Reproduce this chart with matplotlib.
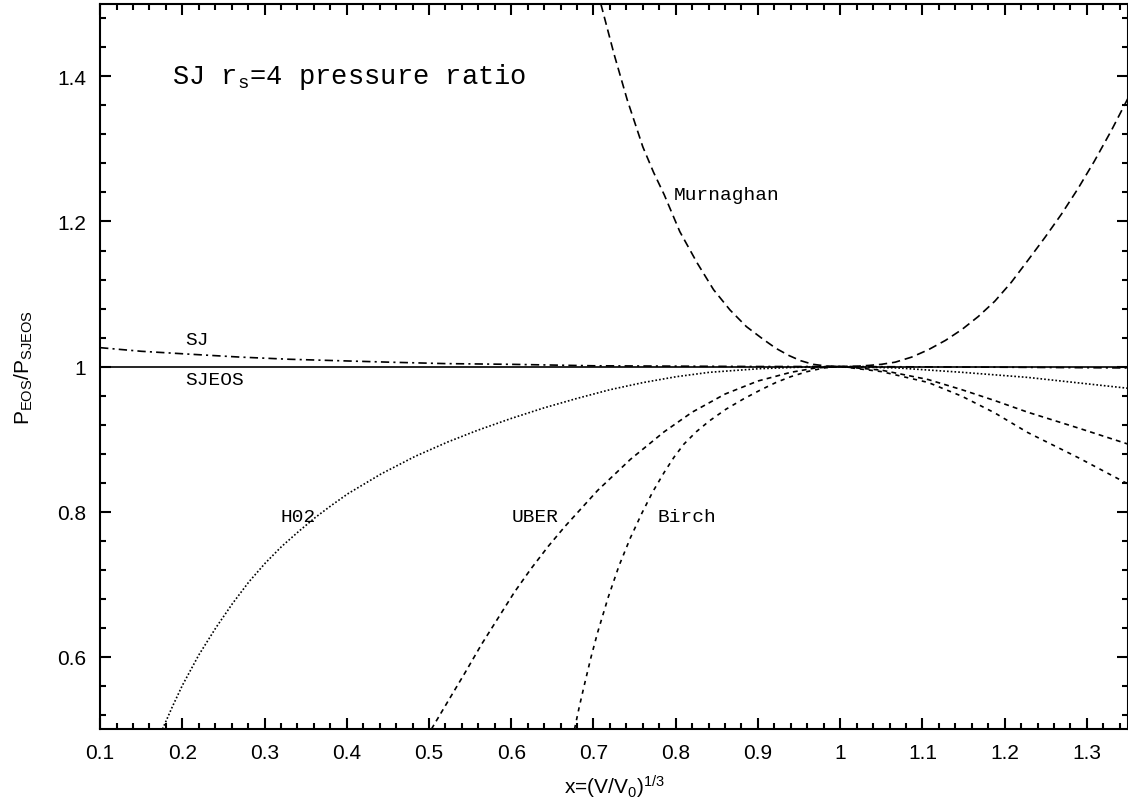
import matplotlib.pyplot as plt
from matplotlib.ticker import MultipleLocator

plt.rcParams['font.family'] = ['Liberation Sans', 'DejaVu Sans']
plt.rcParams['mathtext.fontset'] = 'custom'
plt.rcParams['mathtext.rm'] = 'Liberation Sans'
plt.rcParams['mathtext.it'] = 'Liberation Sans'
plt.rcParams['lines.scale_dashes'] = False

# curves (x = (V/V0)^(1/3), y = P_EOS / P_SJEOS)
sjeos_x = [0.1, 1.35]
sjeos_y = [1.0, 1.0]

sj_x = [0.1, 0.15, 0.209, 0.27, 0.33, 0.39, 0.451, 0.52, 0.6, 0.7, 0.8, 0.9, 1.0, 1.1, 1.2, 1.35]
sj_y = [1.026, 1.021, 1.017, 1.013, 1.010, 1.008, 1.006, 1.004, 1.003, 1.001, 1.0005, 1.0, 1.0,
        0.9995, 0.999, 0.998]

h02_x = [0.176, 0.188, 0.2, 0.22, 0.241, 0.261, 0.281, 0.301, 0.321, 0.342, 0.362, 0.382, 0.402,
         0.442, 0.483, 0.523, 0.559, 0.599, 0.640, 0.680, 0.720, 0.761, 0.801, 0.841, 0.902, 0.95,
         1.0, 1.07, 1.148, 1.228, 1.35]
h02_y = [0.5, 0.531, 0.56, 0.602, 0.64, 0.673, 0.703, 0.729, 0.752, 0.773, 0.792, 0.809, 0.825,
         0.852, 0.876, 0.896, 0.912, 0.928, 0.943, 0.956, 0.968, 0.978, 0.986, 0.992, 0.997, 0.999,
         1.0, 0.998, 0.992, 0.985, 0.970]

uber_x = [0.503, 0.524, 0.544, 0.564, 0.584, 0.604, 0.624, 0.645, 0.665, 0.705, 0.745, 0.786,
          0.82, 0.86, 0.9, 0.94, 0.97, 1.0, 1.05, 1.107, 1.148, 1.188, 1.228, 1.29, 1.35]
uber_y = [0.5, 0.54, 0.578, 0.617, 0.653, 0.689, 0.721, 0.752, 0.779, 0.829, 0.872, 0.910,
          0.937, 0.962, 0.980, 0.992, 0.998, 1.0, 0.995, 0.982, 0.968, 0.953, 0.937, 0.915, 0.893]

birch_x = [0.677, 0.683, 0.690, 0.697, 0.705, 0.718, 0.731, 0.745, 0.759, 0.772, 0.786, 0.798,
           0.810, 0.825, 0.841, 0.861, 0.882, 0.902, 0.922, 0.94, 0.96, 0.98, 1.0, 1.05, 1.107,
           1.148, 1.188, 1.228, 1.29, 1.35]
birch_y = [0.5, 0.532, 0.566, 0.599, 0.633, 0.682, 0.725, 0.764, 0.798, 0.827, 0.854, 0.875,
           0.893, 0.910, 0.925, 0.941, 0.955, 0.967, 0.978, 0.986, 0.993, 0.998, 1.0, 0.993,
           0.978, 0.959, 0.936, 0.909, 0.874, 0.838]

murn_x = [0.709, 0.725, 0.741, 0.76, 0.773, 0.786, 0.805, 0.826, 0.846, 0.866, 0.886, 0.907,
          0.922, 0.938, 0.952, 0.967, 0.983, 1.0, 1.02, 1.035, 1.05, 1.067, 1.087, 1.107, 1.128,
          1.148, 1.168, 1.188, 1.208, 1.228, 1.249, 1.269, 1.289, 1.309, 1.33, 1.35]
murn_y = [1.5, 1.431, 1.368, 1.303, 1.268, 1.237, 1.186, 1.143, 1.106, 1.078, 1.055, 1.037,
          1.025, 1.015, 1.008, 1.003, 1.0007, 1.0, 1.0004, 1.0015, 1.003, 1.006, 1.013, 1.023,
          1.036, 1.051, 1.069, 1.090, 1.116, 1.146, 1.178, 1.210, 1.245, 1.283, 1.326, 1.370]

fig = plt.figure(figsize=(11.28, 8.04), dpi=100)
ax = fig.add_axes([0.0887, 0.092, 0.9113, 0.9018])

lw = 1.2
ax.plot(sjeos_x, sjeos_y, color='black', lw=lw)
ax.plot(sj_x, sj_y, color='black', lw=lw, dashes=(6, 3, 1.5, 3))
ax.plot(h02_x, h02_y, color='black', lw=lw, dashes=(1.2, 1.5))
ax.plot(uber_x, uber_y, color='black', lw=lw, dashes=(3.5, 3))
ax.plot(birch_x, birch_y, color='black', lw=lw, dashes=(3, 3.5))
ax.plot(murn_x, murn_y, color='black', lw=lw, dashes=(6, 3.5))

mono = 'Liberation Mono'
ax.text(0.187, 1.4, r'SJ r$_\mathregular{s}$=4 pressure ratio', family=mono, fontsize=19.5,
        va='center')
ax.text(0.203, 1.037, 'SJ', family=mono, fontsize=14, va='center')
ax.text(0.203, 0.982, 'SJEOS', family=mono, fontsize=14, va='center')
ax.text(0.32, 0.793, 'H02', family=mono, fontsize=14, va='center')
ax.text(0.6, 0.793, 'UBER', family=mono, fontsize=14, va='center')
ax.text(0.778, 0.793, 'Birch', family=mono, fontsize=14, va='center')
ax.text(0.798, 1.237, 'Murnaghan', family=mono, fontsize=14, va='center')

ax.set_xlim(0.1, 1.35)
ax.set_ylim(0.5, 1.5)
ax.xaxis.set_major_locator(MultipleLocator(0.1))
ax.xaxis.set_minor_locator(MultipleLocator(0.02))
ax.yaxis.set_major_locator(MultipleLocator(0.2))
ax.yaxis.set_minor_locator(MultipleLocator(0.04))
ax.set_xticks([0.1, 0.2, 0.3, 0.4, 0.5, 0.6, 0.7, 0.8, 0.9, 1.0, 1.1, 1.2, 1.3])
ax.set_xticklabels(['0.1', '0.2', '0.3', '0.4', '0.5', '0.6', '0.7', '0.8', '0.9', '1', '1.1',
                    '1.2', '1.3'])
ax.set_yticks([0.6, 0.8, 1.0, 1.2, 1.4])
ax.set_yticklabels(['0.6', '0.8', '1', '1.2', '1.4'])
ax.tick_params(which='both', direction='in', top=True, right=True, width=1.5, labelsize=15)
ax.tick_params(which='major', length=8, pad=10)
ax.tick_params(which='minor', length=4)
for s in ax.spines.values():
    s.set_linewidth(1.5)

ax.set_xlabel(r'x=(V/V$_\mathregular{0}$)$^\mathregular{1/3}$', fontsize=15, labelpad=8)
ax.set_ylabel(r'P$_\mathregular{EOS}$/P$_\mathregular{SJEOS}$', fontsize=15, labelpad=16)

fig.savefig('out.png', dpi=100)
